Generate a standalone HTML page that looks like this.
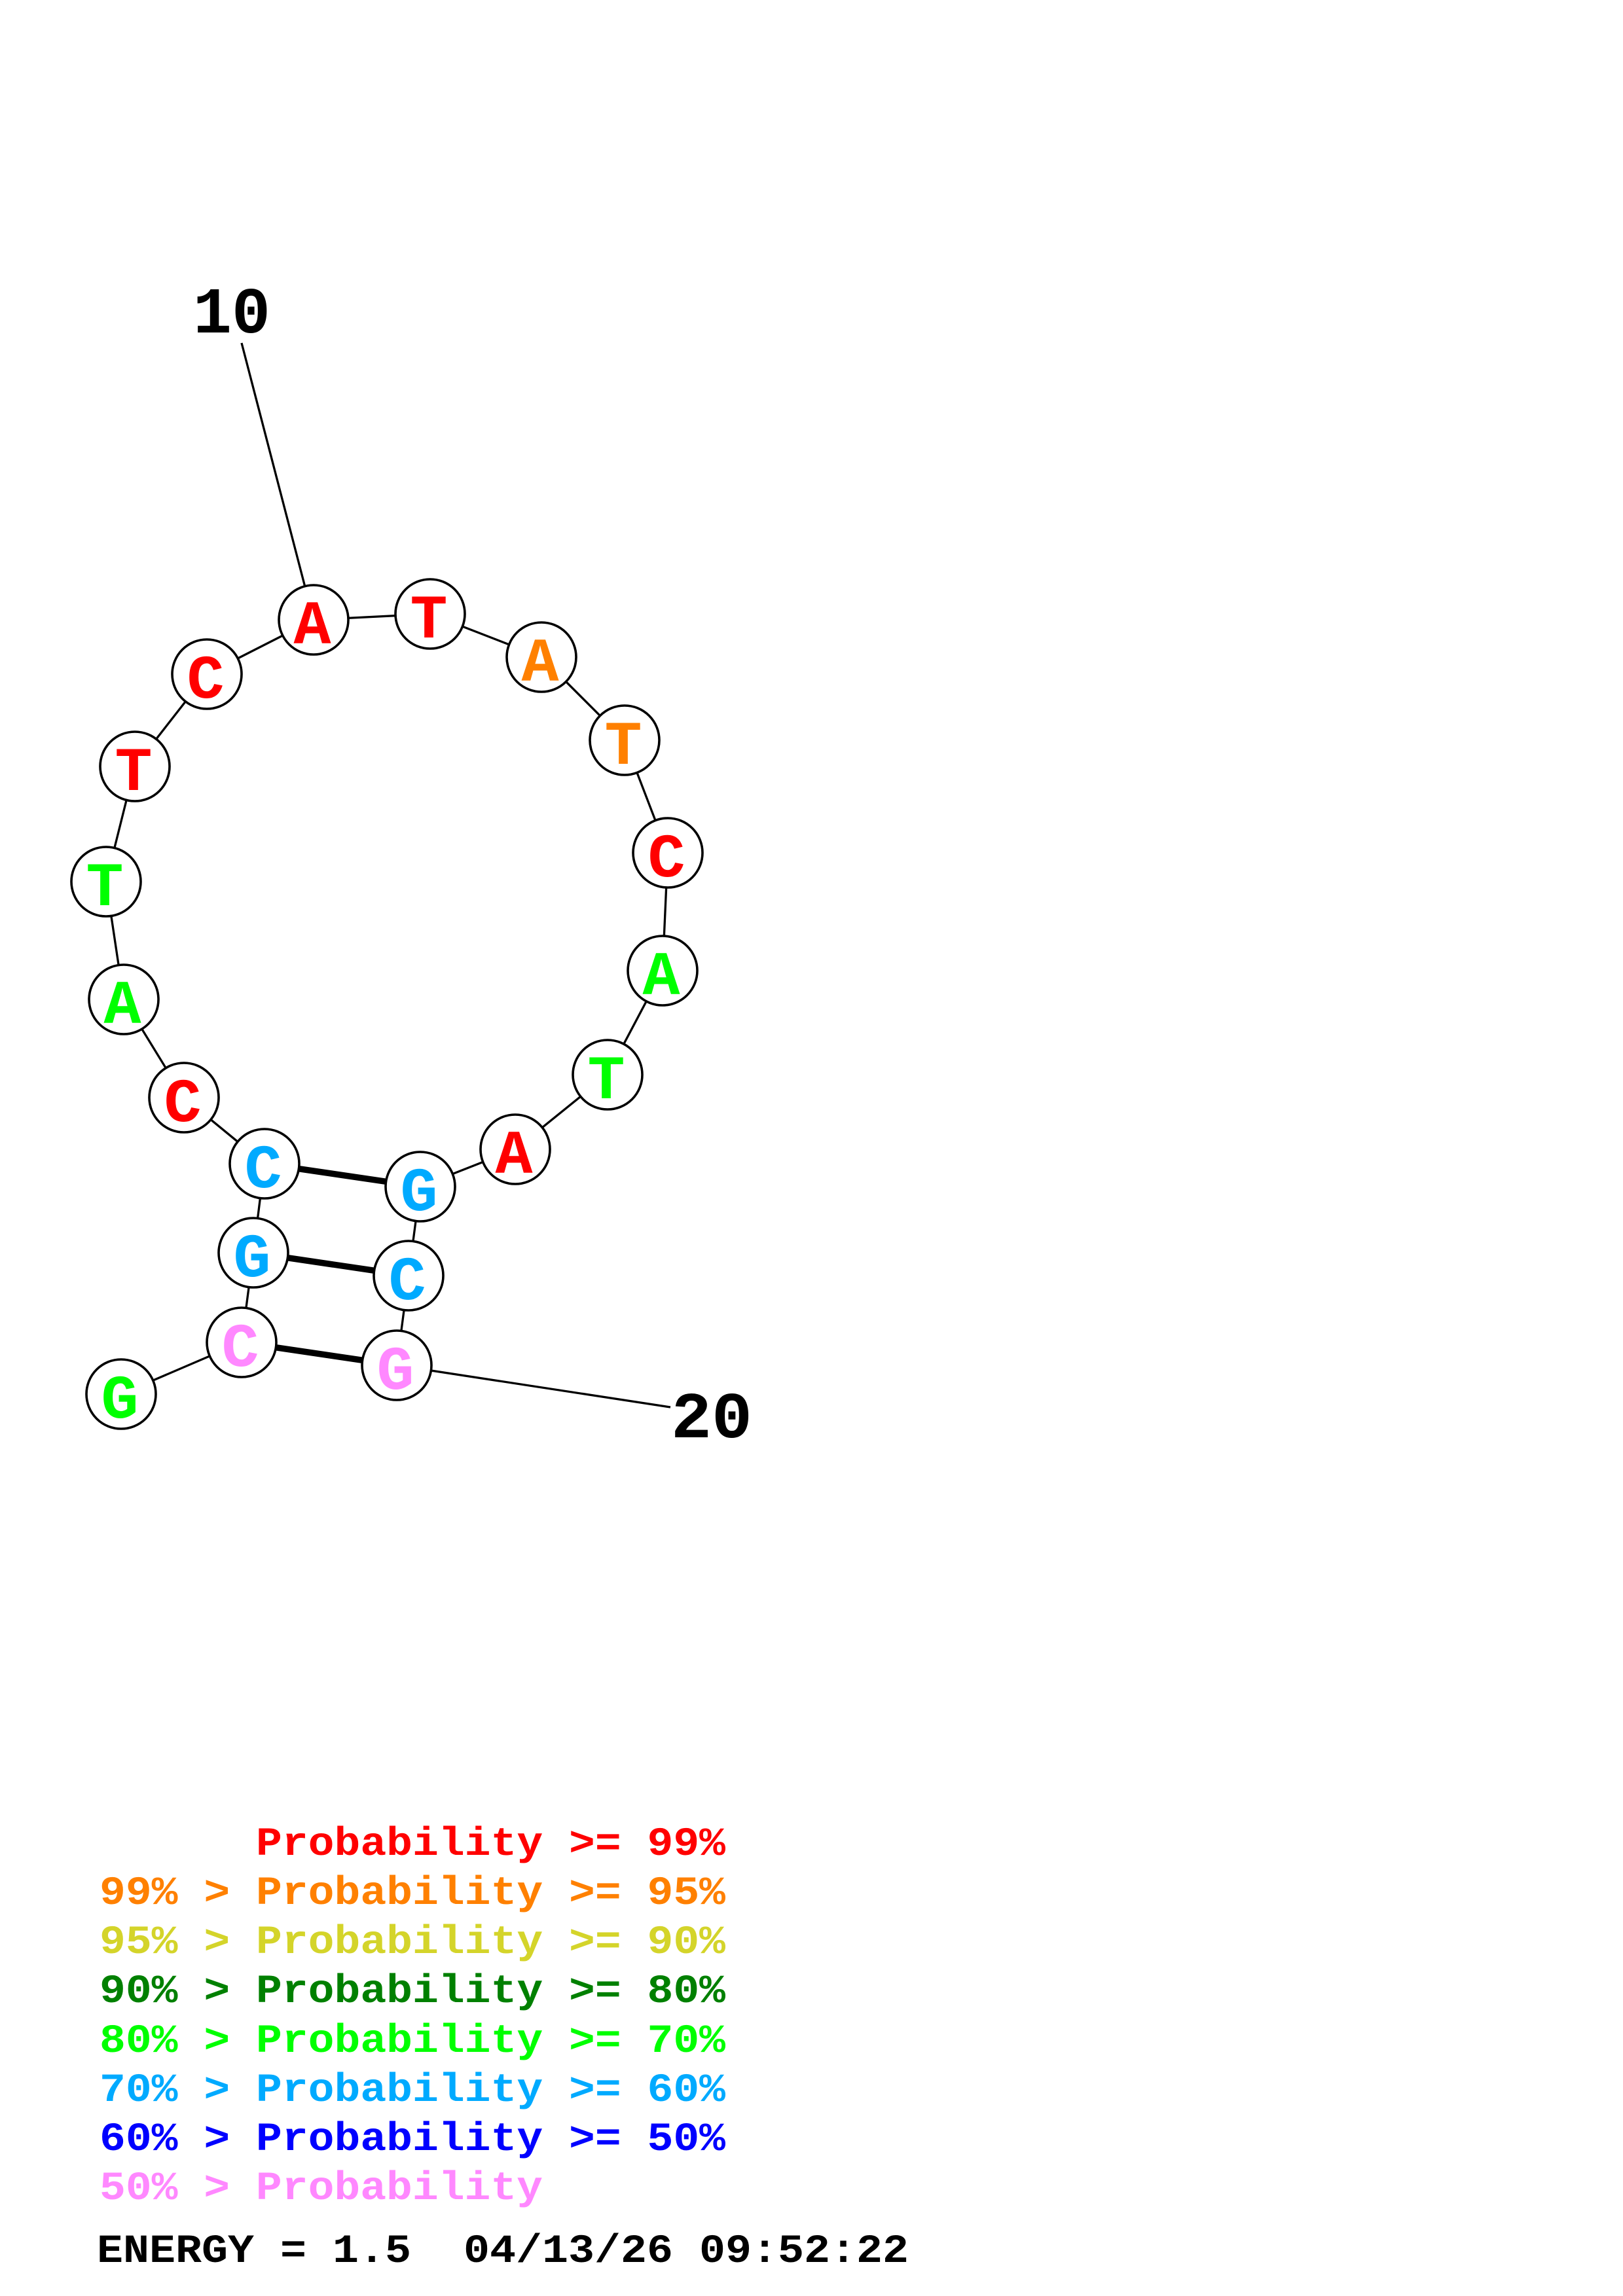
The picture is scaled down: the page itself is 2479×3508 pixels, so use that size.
<!DOCTYPE html>
<html>
<head>
<meta charset="utf-8">
<style>
html,body{margin:0;padding:0;background:#fff;}
svg{display:block;}
.nt{font-family:"Liberation Mono",monospace;font-weight:bold;font-size:95px;text-anchor:middle;}
.lg{font-family:"Liberation Mono",monospace;font-weight:bold;font-size:61px;white-space:pre;}
.num{font-family:"Liberation Mono",monospace;font-weight:bold;font-size:100px;text-anchor:middle;fill:#000;}
</style>
</head>
<body>
<svg width="2479" height="3508" viewBox="0 0 2479 3508" xmlns="http://www.w3.org/2000/svg">
<rect x="0" y="0" width="2479" height="3508" fill="#fff"/>

<!-- label lines -->
<line x1="369" y1="524" x2="479" y2="947" stroke="#000" stroke-width="3.3"/>
<line x1="606" y1="2086" x2="1024" y2="2150" stroke="#000" stroke-width="3.3"/>

<!-- backbone -->
<polyline fill="none" stroke="#000" stroke-width="3.3" points="
185,2130 369,2051 387,1914 404,1778 281,1677 189,1527 162,1347 206,1171 316,1030 479,947
657,938 827,1004 954,1131 1020,1303 1012,1483 928,1642 787,1756 642,1813 624,1949 606,2086"/>

<!-- base pairs -->
<line x1="404" y1="1778" x2="642" y2="1813" stroke="#000" stroke-width="9.5"/>
<line x1="387" y1="1914" x2="624" y2="1949" stroke="#000" stroke-width="9.5"/>
<line x1="369" y1="2051" x2="606" y2="2086" stroke="#000" stroke-width="9.5"/>

<!-- nodes -->
<g fill="#fff" stroke="#000" stroke-width="3.6">
<circle cx="185" cy="2130" r="53"/>
<circle cx="369" cy="2051" r="53"/>
<circle cx="387" cy="1914" r="53"/>
<circle cx="404" cy="1778" r="53"/>
<circle cx="281" cy="1677" r="53"/>
<circle cx="189" cy="1527" r="53"/>
<circle cx="162" cy="1347" r="53"/>
<circle cx="206" cy="1171" r="53"/>
<circle cx="316" cy="1030" r="53"/>
<circle cx="479" cy="947" r="53"/>
<circle cx="657" cy="938" r="53"/>
<circle cx="827" cy="1004" r="53"/>
<circle cx="954" cy="1131" r="53"/>
<circle cx="1020" cy="1303" r="53"/>
<circle cx="1012" cy="1483" r="53"/>
<circle cx="928" cy="1642" r="53"/>
<circle cx="787" cy="1756" r="53"/>
<circle cx="642" cy="1813" r="53"/>
<circle cx="624" cy="1949" r="53"/>
<circle cx="606" cy="2086" r="53"/>
</g>

<g class="nt">
<text x="183" y="2166" fill="#00FF00">G</text>
<text x="367" y="2087" fill="#FF88FF">C</text>
<text x="385" y="1950" fill="#00AAFF">G</text>
<text x="402" y="1814" fill="#00AAFF">C</text>
<text x="279" y="1713" fill="#FF0000">C</text>
<text x="187" y="1563" fill="#00FF00">A</text>
<text x="160" y="1383" fill="#00FF00">T</text>
<text x="204" y="1207" fill="#FF0000">T</text>
<text x="314" y="1066" fill="#FF0000">C</text>
<text x="477" y="983" fill="#FF0000">A</text>
<text x="655" y="974" fill="#FF0000">T</text>
<text x="825" y="1040" fill="#FF8000">A</text>
<text x="952" y="1167" fill="#FF8000">T</text>
<text x="1018" y="1339" fill="#FF0000">C</text>
<text x="1010" y="1519" fill="#00FF00">A</text>
<text x="926" y="1678" fill="#00FF00">T</text>
<text x="785" y="1792" fill="#FF0000">A</text>
<text x="640" y="1849" fill="#00AAFF">G</text>
<text x="622" y="1985" fill="#00AAFF">C</text>
<text x="604" y="2122" fill="#FF88FF">G</text>
</g>

<!-- numbers -->
<text class="num" x="354" y="508" textLength="118" lengthAdjust="spacingAndGlyphs">10</text>
<text class="num" x="1087" y="2196" textLength="124" lengthAdjust="spacingAndGlyphs">20</text>

<!-- legend -->
<g class="lg">
<text x="391" y="2834" fill="#FF0000" textLength="717" lengthAdjust="spacingAndGlyphs">Probability &gt;= 99%</text>
<text x="152" y="2909" fill="#FF8000" textLength="956" lengthAdjust="spacingAndGlyphs" xml:space="preserve">99% &gt; Probability &gt;= 95%</text>
<text x="152" y="2984" fill="#D4D42A" textLength="956" lengthAdjust="spacingAndGlyphs" xml:space="preserve">95% &gt; Probability &gt;= 90%</text>
<text x="152" y="3059" fill="#008000" textLength="956" lengthAdjust="spacingAndGlyphs" xml:space="preserve">90% &gt; Probability &gt;= 80%</text>
<text x="152" y="3135" fill="#00FF00" textLength="956" lengthAdjust="spacingAndGlyphs" xml:space="preserve">80% &gt; Probability &gt;= 70%</text>
<text x="152" y="3210" fill="#00AAFF" textLength="956" lengthAdjust="spacingAndGlyphs" xml:space="preserve">70% &gt; Probability &gt;= 60%</text>
<text x="152" y="3285" fill="#0000FF" textLength="956" lengthAdjust="spacingAndGlyphs" xml:space="preserve">60% &gt; Probability &gt;= 50%</text>
<text x="152" y="3360" fill="#FF88FF" textLength="677" lengthAdjust="spacingAndGlyphs" xml:space="preserve">50% &gt; Probability</text>
<text x="148" y="3456" fill="#000000" textLength="1240" lengthAdjust="spacingAndGlyphs" xml:space="preserve">ENERGY = 1.5  04/13/26 09:52:22</text>
</g>
</svg>
</body>
</html>
